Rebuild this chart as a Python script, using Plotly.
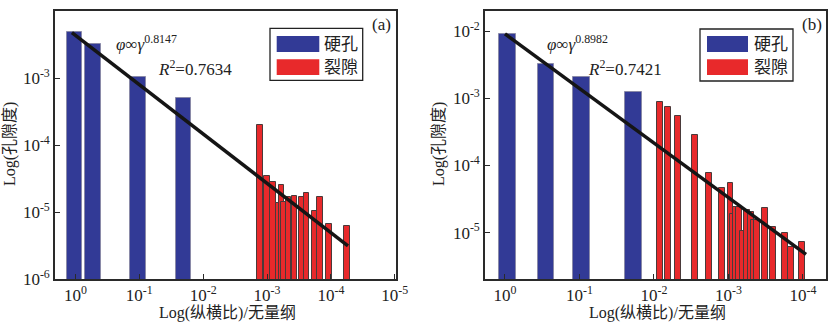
import numpy as np
import plotly.graph_objects as go

W, H = 833, 331

# ---------------- data ----------------
# panel (a)
a_blue_x = [1.05, 0.53, 0.105, 0.0205]
a_blue_y = [4.8e-3, 3.2e-3, 1.03e-3, 5.1e-4]
a_red_x = [1.30e-3, 1.0e-3, 8.0e-4, 6.5e-4, 5.9e-4, 5.5e-4, 4.6e-4, 3.7e-4,
           2.9e-4, 2.4e-4, 1.8e-4, 1.47e-4, 1.06e-4, 5.6e-5]
a_red_y = [2.0e-4, 3.4e-5, 2.8e-5, 1.36e-5, 2.5e-5, 1.4e-5, 1.7e-5, 1.73e-5,
           1.7e-5, 1.94e-5, 1.04e-5, 1.66e-5, 6.6e-6, 6.2e-6]
a_fit = dict(C=4.33e-3, p=0.736, x0=1.135, x1=5.4e-5)
a_formula = "0.8147"
a_r2 = "0.7634"

# panel (b)
b_blue_x = [0.92, 0.282, 0.0934, 0.01875]
b_blue_y = [9.1e-3, 3.19e-3, 2.09e-3, 1.25e-3]
b_red_x = [8.38e-3, 6.55e-3, 4.72e-3, 2.83e-3, 1.85e-3, 1.22e-3, 9.4e-4, 8.7e-4,
           7.9e-4, 7.2e-4, 6.4e-4, 5.7e-4, 5.0e-4, 4.6e-4, 4.1e-4, 3.26e-4,
           2.53e-4, 1.76e-4, 1.43e-4, 1.04e-4]
b_red_y = [8.87e-4, 7.4e-4, 5.5e-4, 2.86e-4, 7.6e-5, 4.7e-5, 5.4e-5, 1.9e-5,
           2.4e-5, 2.4e-5, 1.05e-5, 2.2e-5, 2.0e-5, 1.55e-5, 1.55e-5, 2.35e-5,
           1.2e-5, 9.8e-6, 6.1e-6, 7.3e-6]
b_fit = dict(C=9.12e-3, p=0.8126, x0=1.0, x1=9.1e-5)
b_formula = "0.8982"
b_r2 = "0.7421"

x_exps_a = [0, -1, -2, -3, -4, -5]
x_exps_b = [0, -1, -2, -3, -4]
y_exps_a = [-6, -5, -4, -3, -2]
y_exps_b = [-5, -4, -3, -2]
legend_names = ["硬孔", "裂隙"]
x_title = "Log(纵横比)/无量纲"
y_title = "Log(孔隙度)"

BLUE = "#323a96"
RED = "#e8292b"
FONT = "'Liberation Serif', 'Noto Sans CJK SC', serif"

fig = go.Figure()


def add_panel(bx, by, rx, ry, fit, bw, rw, xa, ya):
    fig.add_trace(go.Bar(x=np.log10(bx), y=by, width=bw, marker_color=BLUE,
                         marker_line=dict(color="#8a8aa8", width=1),
                         xaxis=xa, yaxis=ya, showlegend=False))
    fig.add_trace(go.Bar(x=np.log10(rx), y=ry, width=rw, marker_color=RED,
                         marker_line=dict(color="#4a3a3a", width=1),
                         xaxis=xa, yaxis=ya, showlegend=False))
    xs = np.array([fit["x0"], fit["x1"]])
    ys = fit["C"] * xs ** fit["p"]
    fig.add_trace(go.Scatter(x=np.log10(xs), y=ys, mode="lines",
                             line=dict(color="#151515", width=3.5),
                             xaxis=xa, yaxis=ya, showlegend=False))


add_panel(a_blue_x, a_blue_y, a_red_x, a_red_y, a_fit, 0.237, 0.088, "x", "y")
add_panel(b_blue_x, b_blue_y, b_red_x, b_red_y, b_fit, 0.224, 0.08, "x2", "y2")


def px(x):
    return x / W


def py(y):
    return 1 - y / H


ydom = [py(279), py(11)]
axis_common = dict(showline=True, linecolor="#2a2a2a", linewidth=1.6, mirror=True,
                   ticks="inside", ticklen=5, tickwidth=1.2, tickcolor="#2a2a2a",
                   showgrid=False, zeroline=False, automargin=False,
                   tickfont=dict(family=FONT, size=17, color="#222"))


def tt(e):
    return [f"10<sup>{v}</sup>" for v in e]


fig.update_layout(
    width=W, height=H, margin=dict(l=0, r=0, t=0, b=0),
    paper_bgcolor="white", plot_bgcolor="white", barmode="overlay",
    bargap=0, font=dict(family=FONT, color="#222"),
    xaxis=dict(domain=[px(55), px(396)], range=[0.32, -5.02],
               tickvals=x_exps_a, ticktext=tt(x_exps_a), anchor="y", **axis_common),
    yaxis=dict(domain=ydom, type="log", range=[-6, -2],
               tickvals=[10.0 ** e for e in y_exps_a], ticktext=tt(y_exps_a),
               anchor="x", **axis_common),
    xaxis2=dict(domain=[px(485), px(826)], range=[0.268, -4.309],
                tickvals=x_exps_b, ticktext=tt(x_exps_b), anchor="y2", **axis_common),
    yaxis2=dict(domain=ydom, type="log", range=[-5.69, -1.70],
                tickvals=[10.0 ** e for e in y_exps_b], ticktext=tt(y_exps_b),
                anchor="x2", **axis_common),
)

shapes = []
annotations = []


def text(x, y, s, size=16, angle=0, xanchor="center"):
    annotations.append(dict(x=px(x), y=py(y), xref="paper", yref="paper", text=s,
                            showarrow=False, xanchor=xanchor, yanchor="middle",
                            textangle=angle, font=dict(family=FONT, size=size, color="#222")))


def legend(x0, x1, y0, y1, rx0, rx1, tx):
    shapes.append(dict(type="rect", xref="paper", yref="paper", x0=px(x0), x1=px(x1),
                       y0=py(y1), y1=py(y0), line=dict(color="#222", width=1.3),
                       fillcolor="white"))
    for (ya, yb), col, name in [((36, 52), BLUE, legend_names[0]), ((59.3, 75), RED, legend_names[1])]:
        shapes.append(dict(type="rect", xref="paper", yref="paper", x0=px(rx0), x1=px(rx1),
                           y0=py(yb), y1=py(ya), line=dict(width=0), fillcolor=col))
        text(tx, (ya + yb) / 2, name, size=17)


legend(270, 362.7, 28.3, 80.3, 276.7, 319.3, 341)
legend(700, 793, 29, 81, 707, 748, 771)

text(146, 43, f"<i>φ</i>∞<i>γ</i><sup>{a_formula}</sup>", size=17)
text(195, 68, f"<i>R</i><sup>2</sup>=" + a_r2, size=17)
text(381, 24, "(a)", size=17)
text(577, 43, f"<i>φ</i>∞<i>γ</i><sup>{b_formula}</sup>", size=17)
text(625, 68, f"<i>R</i><sup>2</sup>=" + b_r2, size=17)
text(812, 24, "(b)", size=17)

text(227, 313, x_title, size=16)
text(657, 313, x_title, size=16)
text(10, 144, y_title, size=16, angle=-90)
text(439, 144, y_title, size=16, angle=-90)

fig.update_layout(shapes=shapes, annotations=annotations)
fig.write_html("out.html")
